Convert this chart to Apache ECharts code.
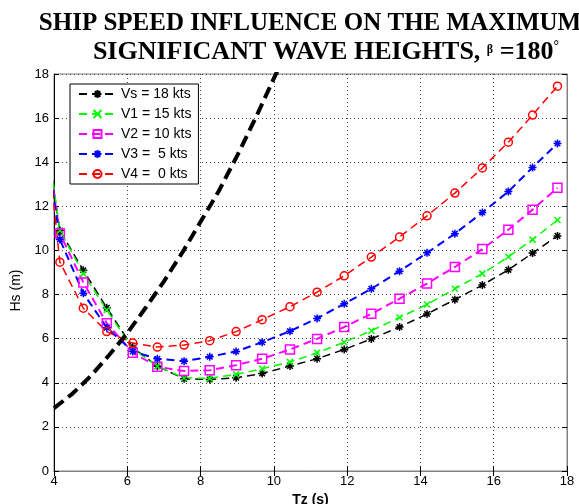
<!DOCTYPE html>
<html lang="en">
<head>
    <meta charset="UTF-8">
    <title>ship_speed_hs</title>
    <script src="https://cdn.jsdelivr.net/npm/echarts@6/dist/echarts.min.js"></script>
    <style>
        html, body { margin: 0; padding: 0; background: #fff; }
        #main { width: 579px; height: 504px; }
    </style>
</head>
<body>
<div id="main"></div>
<script>
    // zero-crossing periods (first point lies left of the axis, it gets clipped)
    var tz = [3.44, 4.16, 4.80, 5.44, 6.15, 6.82, 7.55, 8.25, 8.97, 9.68, 10.44,
              11.18, 11.92, 12.66, 13.43, 14.18, 14.94, 15.69, 16.40, 17.06, 17.74];

    // max significant wave heights per ship speed
    var vs18 = [19.0, 10.9, 9.1, 7.4, 5.6, 4.75, 4.18, 4.15, 4.23, 4.42, 4.76,
                5.09, 5.51, 5.99, 6.53, 7.12, 7.77, 8.43, 9.12, 9.88, 10.66];
    var v15 = [19.5, 10.9, 8.95, 7.3, 5.55, 4.75, 4.22, 4.2, 4.38, 4.64, 4.94,
               5.36, 5.84, 6.36, 6.96, 7.55, 8.26, 8.95, 9.71, 10.49, 11.38];
    var v10 = [18.6, 10.77, 8.55, 6.7, 5.36, 4.73, 4.53, 4.57, 4.8, 5.09, 5.51,
               5.99, 6.53, 7.13, 7.81, 8.5, 9.25, 10.06, 10.94, 11.85, 12.84];
    var v5 = [18.6, 10.5, 8.06, 6.5, 5.42, 5.09, 4.98, 5.18, 5.42, 5.84, 6.34,
              6.92, 7.58, 8.26, 9.06, 9.89, 10.76, 11.72, 12.67, 13.76, 14.85];
    var v0 = [20.9, 9.47, 7.38, 6.32, 5.8, 5.62, 5.71, 5.91, 6.32, 6.86, 7.45,
              8.11, 8.85, 9.70, 10.61, 11.57, 12.60, 13.74, 14.91, 16.14, 17.45];

    // thick dashed limit curve (no legend entry)
    var limitTz = [4.0, 4.5, 5.0, 5.5, 6.0, 6.5, 7.0, 7.5, 8.0, 8.5, 9.0, 9.5, 10.0, 10.5];
    var limitHs = [2.85, 3.5, 4.3, 5.25, 6.25, 7.4, 8.6, 9.9, 11.3, 12.7, 14.3, 16.0, 17.8, 19.6];

    var names = ['Vs = 18 kts', 'V1 = 15 kts', 'V2 = 10 kts', 'V3 =  5 kts', 'V4 =  0 kts'];

    var ASTERISK = 'path://M5 0L5 10M0 5L10 5M1.5 1.5L8.5 8.5M1.5 8.5L8.5 1.5';
    var CROSS = 'path://M0 0L10 10M0 10L10 0';

    function pairs(xs, ys) {
        return xs.map(function (x, i) { return [x, ys[i]]; });
    }

    function markerSeries(name, ys, color, symbol, size, width) {
        return {
            name: name,
            type: 'line',
            clip: true,
            data: pairs(tz, ys),
            symbol: symbol,
            symbolSize: size,
            showAllSymbol: true,
            lineStyle: {color: color, width: width, type: [8, 5]},
            itemStyle: {color: 'none', borderColor: color, borderWidth: 1.5},
            emphasis: {disabled: true}
        };
    }

    var font = 'Liberation Sans';
    var chart = echarts.init(document.getElementById('main'), null, {renderer: 'canvas'});

    chart.setOption({
        animation: false,
        backgroundColor: '#fff',
        title: [
            {
                text: 'SHIP SPEED INFLUENCE ON THE MAXIMUM',
                left: 305, top: 6, textAlign: 'center',
                textStyle: {fontFamily: 'Liberation Serif', fontWeight: 'bold', fontSize: 25, color: '#000'}
            },
            {
                text: '{a|SIGNIFICANT WAVE HEIGHTS, }{b|β}{a| =180}{c|°}',
                left: 321, top: 34, textAlign: 'center',
                textStyle: {
                    rich: {
                        a: {fontFamily: 'Liberation Serif', fontWeight: 'bold', fontSize: 26, color: '#000'},
                        b: {fontFamily: 'Liberation Serif', fontSize: 12, color: '#000', padding: [0, 0, 4, 0]},
                        c: {fontFamily: 'Liberation Serif', fontWeight: 'bold', fontSize: 14, color: '#000', padding: [0, 0, 12, 0]}
                    }
                }
            }
        ],
        legend: {
            data: names,
            orient: 'vertical',
            left: 70, top: 84,
            padding: [3, 7, 3, 8],
            itemWidth: 37, itemHeight: 10, itemGap: 6,
            backgroundColor: '#fff',
            borderColor: '#000', borderWidth: 1, borderRadius: 0,
            textStyle: {fontFamily: font, fontSize: 14, color: '#000'}
        },
        grid: {
            left: 54, right: 12, top: 74, bottom: 33,
            outerBoundsMode: 'none',
            show: true, borderColor: '#808080', borderWidth: 1
        },
        xAxis: [
            {
                type: 'value', min: 4, max: 18, interval: 2,
                name: 'Tz (s)', nameLocation: 'middle', nameGap: 18,
                nameTextStyle: {fontFamily: font, fontSize: 14, fontWeight: 'bold', color: '#000'},
                axisLine: {lineStyle: {color: '#000'}},
                axisTick: {inside: true, length: 5, lineStyle: {color: '#000'}},
                axisLabel: {fontFamily: font, fontSize: 13, color: '#000', margin: 4},
                splitLine: {show: true, lineStyle: {color: '#444', type: [1, 3]}}
            },
            {
                type: 'value', min: 4, max: 18, interval: 2, position: 'top',
                axisLine: {lineStyle: {color: '#808080'}},
                axisTick: {inside: true, length: 5, lineStyle: {color: '#000'}},
                axisLabel: {show: false}, splitLine: {show: false}
            }
        ],
        yAxis: [
            {
                type: 'value', min: 0, max: 18, interval: 2,
                name: 'Hs (m)', nameLocation: 'middle', nameGap: 26, nameRotate: 90,
                nameTextStyle: {fontFamily: font, fontSize: 14, color: '#000', padding: [0, 36, 0, 0]},
                axisLine: {show: true, lineStyle: {color: '#000'}},
                axisTick: {show: true, inside: true, length: 5, lineStyle: {color: '#000'}},
                axisLabel: {fontFamily: font, fontSize: 13, color: '#000', margin: 5},
                splitLine: {show: true, lineStyle: {color: '#444', type: [1, 3]}}
            },
            {
                type: 'value', min: 0, max: 18, interval: 2, position: 'right',
                axisLine: {show: true, lineStyle: {color: '#808080'}},
                axisTick: {show: true, inside: true, length: 5, lineStyle: {color: '#000'}},
                axisLabel: {show: false}, splitLine: {show: false}
            }
        ],
        series: [
            markerSeries(names[0], vs18, '#000000', ASTERISK, 8, 1.5),
            markerSeries(names[1], v15, '#00ff00', CROSS, 6, 1.5),
            markerSeries(names[2], v10, '#ff00ff', 'rect', 9, 2),
            markerSeries(names[3], v5, '#0000ff', ASTERISK, 8, 2),
            markerSeries(names[4], v0, '#ff0000', 'circle', 8, 1.5),
            {
                name: 'limit',
                type: 'line',
                clip: true,
                data: pairs(limitTz, limitHs),
                symbol: 'none',
                lineStyle: {color: '#000', width: 4, type: [12, 6]},
                emphasis: {disabled: true}
            }
        ]
    });
</script>
</body>
</html>
